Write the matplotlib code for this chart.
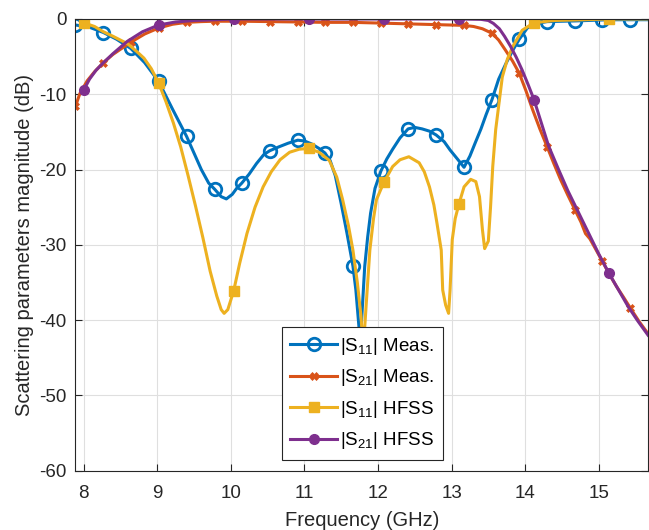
import numpy as np
import matplotlib
matplotlib.use('Agg')
import matplotlib.pyplot as plt

plt.rcParams['font.family'] = ['Liberation Sans', 'DejaVu Sans']
plt.rcParams['mathtext.fontset'] = 'custom'
plt.rcParams['mathtext.rm'] = 'Liberation Sans'
plt.rcParams['mathtext.default'] = 'regular'
plt.rcParams['axes.unicode_minus'] = False

# measured data (GHz, dB)
f_s11_meas = [7.89, 8.08, 8.27, 8.45, 8.64, 8.83, 9.02, 9.21, 9.40, 9.50, 9.60, 9.70,
              9.78, 9.87, 9.94, 10.02, 10.08, 10.15, 10.25, 10.35, 10.45, 10.53, 10.65,
              10.78, 10.91, 11.00, 11.10, 11.20, 11.28, 11.35, 11.42, 11.50, 11.58, 11.66,
              11.70, 11.73, 11.76, 11.79, 11.82, 11.86, 11.90, 11.96, 12.04, 12.12, 12.20,
              12.30, 12.41, 12.50, 12.60, 12.70, 12.79, 12.90, 12.98, 13.08, 13.17, 13.25,
              13.32, 13.40, 13.47, 13.55, 13.64, 13.74, 13.83, 13.92, 14.03, 14.15, 14.30,
              14.50, 14.68, 14.85, 15.05, 15.25, 15.43, 15.67]
s11_meas = [-0.8, -1.1, -1.8, -2.7, -3.9, -5.8, -8.3, -12.0, -15.6, -17.8, -20.0, -21.8,
            -22.6, -23.6, -23.9, -23.3, -22.5, -21.8, -20.6, -19.2, -18.0, -17.5, -17.0,
            -16.5, -16.1, -16.2, -16.6, -17.2, -17.8, -18.8, -20.8, -24.5, -28.5, -32.8,
            -36.0, -39.5, -43.0, -38.0, -32.9, -29.0, -25.8, -22.5, -20.2, -18.6, -17.3,
            -15.8, -14.6, -14.4, -14.6, -14.9, -15.4, -16.3, -17.4, -18.6, -19.7, -18.2,
            -16.5, -14.6, -12.7, -10.7, -8.0, -5.9, -4.2, -2.7, -1.2, -0.6, -0.35,
            -0.3, -0.26, -0.2, -0.13, -0.1, -0.1, -0.1]

f_s21_meas = [7.89, 7.95, 8.05, 8.15, 8.27, 8.40, 8.52, 8.64, 8.83, 9.02, 9.21, 9.40,
              9.60, 9.78, 10.15, 10.53, 10.91, 11.28, 11.66, 12.04, 12.41, 12.79, 13.17,
              13.30, 13.42, 13.55, 13.64, 13.73, 13.83, 13.92, 14.01, 14.10, 14.20, 14.30,
              14.39, 14.48, 14.58, 14.68, 14.76, 14.82, 14.88, 14.96, 15.05, 15.15, 15.24,
              15.34, 15.43, 15.55, 15.67]
s21_meas = [-11.6, -9.9, -8.2, -7.0, -5.8, -4.7, -3.9, -3.1, -2.0, -1.2, -0.7, -0.45,
            -0.35, -0.3, -0.3, -0.35, -0.4, -0.45, -0.45, -0.55, -0.65, -0.75, -0.85,
            -1.0, -1.3, -1.9, -2.8, -4.1, -5.6, -7.2, -9.5, -12.0, -14.6, -17.0,
            -19.2, -21.3, -23.4, -25.4, -27.0, -28.5, -29.2, -30.6, -32.2, -34.0, -35.5,
            -37.0, -38.4, -40.2, -41.8]

# HFSS simulation (GHz, dB)
f_s11_hfss = [8.00, 8.15, 8.27, 8.40, 8.60, 8.72, 8.82, 8.92, 9.02, 9.12, 9.22, 9.32,
              9.42, 9.52, 9.62, 9.72, 9.81, 9.87, 9.91, 9.96, 10.04, 10.12, 10.22, 10.33,
              10.44, 10.55, 10.67, 10.80, 10.93, 11.06, 11.20, 11.34, 11.44, 11.52, 11.60,
              11.66, 11.72, 11.77, 11.80, 11.84, 11.89, 11.94, 11.98, 12.08, 12.20, 12.30,
              12.42, 12.56, 12.63, 12.70, 12.76, 12.80, 12.86, 12.88, 12.92, 12.96, 12.98,
              13.01, 13.05, 13.10, 13.17, 13.26, 13.33, 13.38, 13.42, 13.45, 13.50, 13.53,
              13.56, 13.60, 13.65, 13.69, 13.76, 13.83, 13.96, 14.12, 14.40, 14.80, 15.14,
              15.67]
s11_hfss = [-0.5, -1.0, -1.7, -2.3, -3.3, -4.3, -5.2, -6.6, -8.5, -11.0, -13.8, -17.0,
            -20.8, -24.8, -29.0, -33.5, -36.8, -38.6, -39.1, -38.6, -36.1, -32.5, -28.5, -25.0,
            -22.3, -20.3, -18.7, -17.7, -17.3, -17.2, -17.7, -18.8, -21.0, -24.0, -27.5,
            -30.7, -35.0, -39.5, -44.0, -38.0, -30.7, -26.5, -24.0, -21.7, -19.6, -18.7,
            -18.3, -19.1, -20.3, -22.3, -24.7, -27.0, -30.7, -36.0, -38.0, -39.1, -36.0,
            -29.3, -26.5, -24.6, -22.3, -21.3, -21.6, -23.6, -28.0, -30.5, -29.5, -25.0,
            -19.6, -14.7, -10.8, -7.7, -5.3, -3.7, -1.5, -0.5, -0.2, -0.1, 0.0,
            0.0]

f_s21_hfss = [8.00, 8.08, 8.17, 8.27, 8.40, 8.59, 8.80, 9.02, 9.25, 9.50, 9.80, 10.04,
              11.06, 12.08, 13.10, 13.40, 13.50, 13.57, 13.65, 13.72, 13.80, 13.88, 13.96,
              14.04, 14.12, 14.22, 14.32, 14.45, 14.58, 14.71, 14.86, 15.00, 15.14, 15.27,
              15.40, 15.53, 15.67]
s21_hfss = [-9.5, -8.0, -6.8, -5.8, -4.6, -3.0, -1.7, -0.8, -0.4, -0.2, -0.1, 0.0,
            0.0, 0.0, 0.0, -0.05, -0.2, -0.6, -1.3, -2.3, -3.6, -5.1, -6.8,
            -8.7, -10.7, -13.8, -16.9, -19.9, -22.8, -25.4, -28.4, -31.2, -33.8, -36.0,
            -38.2, -40.1, -42.0]

# marker frequencies
meas_marks = [7.89, 8.27, 8.64, 9.02, 9.40, 9.78, 10.15, 10.53, 10.91, 11.28, 11.66,
              12.04, 12.41, 12.79, 13.17, 13.55, 13.92, 14.30, 14.68, 15.05, 15.43]
hfss_marks = [8.00, 9.02, 10.04, 11.06, 12.08, 13.10, 14.12, 15.14]


def mark_idx(freqs, marks):
    freqs = np.asarray(freqs)
    return [int(np.argmin(np.abs(freqs - m))) for m in marks]


fig = plt.figure(figsize=(6.49, 5.30), dpi=100)
ax = fig.add_axes([0.1163, 0.1119, 0.8822, 0.8523])

ax.plot(f_s11_meas, s11_meas, color='#0072BD', lw=2.2, marker='o', ms=9,
        mfc='none', mew=2.0, markevery=mark_idx(f_s11_meas, meas_marks),
        label='|S$_{11}$| Meas.')
ax.plot(f_s21_meas, s21_meas, color='#D95319', lw=2.2, marker='X', ms=6,
        mew=0.5, markevery=mark_idx(f_s21_meas, meas_marks),
        label='|S$_{21}$| Meas.')
ax.plot(f_s11_hfss, s11_hfss, color='#EDB120', lw=2.2, marker='s', ms=7,
        mfc='#EDB120', markevery=mark_idx(f_s11_hfss, hfss_marks),
        label='|S$_{11}$| HFSS')
ax.plot(f_s21_hfss, s21_hfss, color='#7E2F8E', lw=2.2, marker='o', ms=7,
        mfc='#7E2F8E', markevery=mark_idx(f_s21_hfss, hfss_marks),
        label='|S$_{21}$| HFSS')

ax.set_xlim(7.89, 15.67)
ax.set_ylim(-60, 0)
ax.set_xticks(range(8, 16))
ax.set_yticks(range(-60, 1, 10))
ax.grid(True, color='#dfdfdf', lw=0.8)
ax.set_axisbelow(True)
ax.tick_params(direction='in', top=True, right=True, labelsize=13.5,
               colors='#262626', length=5)
ax.tick_params(axis='x', pad=10)
ax.tick_params(axis='y', pad=6.5)
for s in ax.spines.values():
    s.set_color('#262626')
    s.set_linewidth(0.8)

ax.set_xlabel('Frequency (GHz)', fontsize=14.5, color='#262626', labelpad=6.5)
ax.set_ylabel('Scattering parameters magnitude (dB)', fontsize=14.5,
              color='#262626', labelpad=4)

leg = ax.legend(loc='lower left', bbox_to_anchor=(0.3607, 0.0243),
                fontsize=13.5, fancybox=False, framealpha=1,
                edgecolor='#262626', handlelength=2.5, borderaxespad=0,
                labelspacing=0.56, handletextpad=0.15, borderpad=0.45)
leg.get_frame().set_linewidth(0.8)
leg.set_zorder(5)

fig.savefig('out.png', dpi=100)
